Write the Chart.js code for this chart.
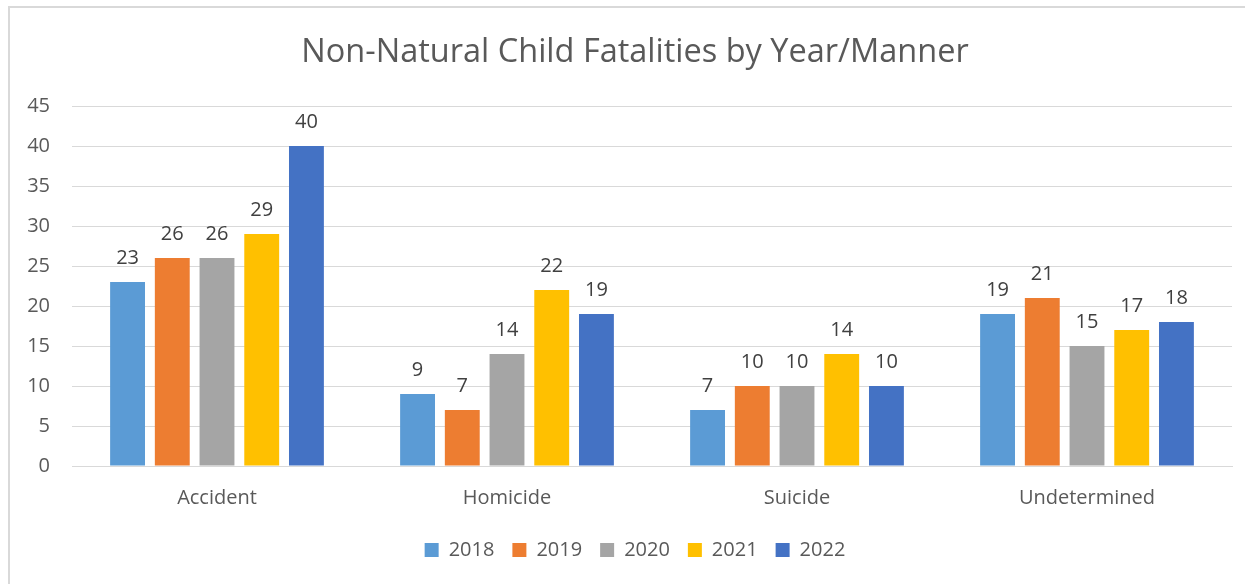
<!DOCTYPE html>
<html>
<head>
<meta charset="utf-8">
<script src="https://cdn.jsdelivr.net/npm/chart.js@4.4.1/dist/chart.umd.min.js"></script>
<style>
  html, body { margin: 0; padding: 0; background: #fff; overflow: hidden; }
  #frame { position: absolute; left: 8px; top: 6px; width: 1400px; height: 800px; border: 2px solid #d9d9d9; box-sizing: border-box; }
  #c { position: absolute; left: 0; top: 0; }
</style>
</head>
<body>
<div id="frame"></div>
<canvas id="c" width="1245" height="584"></canvas>
<script>
const categories = ["Accident", "Homicide", "Suicide", "Undetermined"];
const years = ["2018", "2019", "2020", "2021", "2022"];
const v2018 = [23, 9, 7, 19];
const v2019 = [26, 7, 10, 21];
const v2020 = [26, 14, 10, 15];
const v2021 = [29, 22, 14, 17];
const v2022 = [40, 19, 10, 18];
const yTicks = [0, 5, 10, 15, 20, 25, 30, 35, 40, 45];
const colors = ["#5B9BD5", "#ED7D31", "#A5A5A5", "#FFC000", "#4472C4"];
const seriesValues = [v2018, v2019, v2020, v2021, v2022];

const FONT = "'Open Sans', sans-serif";
const TXT = "#595959";

const dataLabels = {
  id: "dataLabels",
  afterDatasetsDraw(chart) {
    const ctx = chart.ctx;
    ctx.save();
    ctx.font = "20px " + FONT;
    ctx.fillStyle = "#404040";
    ctx.textAlign = "center";
    ctx.textBaseline = "alphabetic";
    chart.data.datasets.forEach((ds, i) => {
      chart.getDatasetMeta(i).data.forEach((bar, j) => {
        ctx.fillText(String(ds.data[j]), bar.x, bar.y - 18);
      });
    });
    ctx.restore();
  }
};

new Chart(document.getElementById("c"), {
  type: "bar",
  data: {
    labels: categories,
    datasets: years.map((y, i) => ({
      label: y,
      data: seriesValues[i],
      backgroundColor: colors[i],
      borderWidth: 0,
      categoryPercentage: 0.771,
      barPercentage: 0.78
    }))
  },
  options: {
    responsive: false,
    animation: false,
    devicePixelRatio: 1,
    layout: { padding: { left: 38, right: 13, top: 0, bottom: 14 } },
    plugins: {
      title: {
        display: true,
        text: "Non-Natural Child Fatalities by Year/Manner",
        color: TXT,
        font: { family: FONT, size: 32.5, weight: "normal" },
        padding: { top: 33, bottom: 34 }
      },
      legend: {
        position: "bottom",
        labels: {
          color: TXT,
          font: { family: FONT, size: 20 },
          boxWidth: 14,
          boxHeight: 14,
          padding: 18
        }
      },
      tooltip: { enabled: false }
    },
    scales: {
      x: {
        grid: { display: false, drawTicks: false },
        border: { display: true, color: "#d9d9d9", width: 1 },
        ticks: { color: TXT, font: { family: FONT, size: 20 }, padding: 20 },
        afterFit(s) { s.height = 56; }
      },
      y: {
        min: 0, max: 45,
        afterBuildTicks(s) { s.ticks = yTicks.map(v => ({ value: v })); },
        grid: { color: "#d9d9d9", drawTicks: false },
        border: { display: false },
        ticks: { color: TXT, font: { family: FONT, size: 20 }, padding: 22 },
        afterFit(s) { s.width = 34; s._computeLabelArea = () => undefined; }
      }
    }
  },
  plugins: [dataLabels]
});
</script>
</body>
</html>
